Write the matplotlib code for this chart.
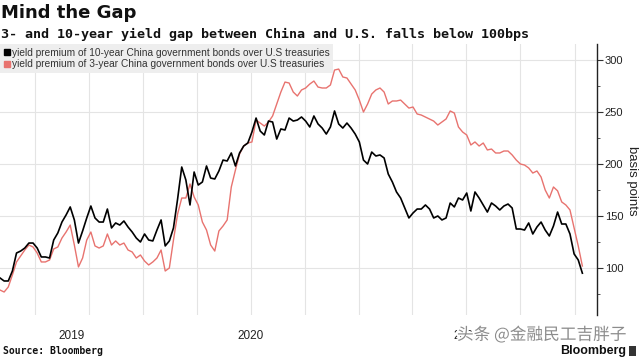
import pandas as pd
import matplotlib
matplotlib.use("Agg")
import matplotlib.pyplot as plt
import matplotlib.dates as mdates
import matplotlib.patheffects as pe
from matplotlib.lines import Line2D
from matplotlib.patches import Rectangle
from matplotlib.ticker import MultipleLocator
from matplotlib import font_manager

# weekly readings, basis points
dates = pd.date_range("2019-05-03", periods=142, freq="7D")

ten_year = [
    90.4, 87.5, 87.5, 97.1, 114.4, 116.3, 119.2, 124.0, 124.0, 119.2,
    110.6, 110.6, 109.6, 126.9, 133.7, 144.2, 151.0, 158.7, 146.2, 124.0,
    135.6, 148.1, 159.6, 148.1, 144.2, 144.2, 156.7, 138.5, 143.3, 141.3,
    145.2, 139.4, 134.6, 128.8, 125.0, 132.7, 126.9, 126.0, 136.5, 146.2,
    121.2, 126.0, 138.5, 166.3, 197.1, 184.6, 160.6, 192.3, 179.8, 182.7,
    198.1, 186.5, 185.6, 193.3, 203.8, 202.9, 210.6, 198.1, 210.6, 217.3,
    220.2, 230.8, 244.2, 231.7, 227.9, 241.3, 240.4, 224.0, 233.7, 232.7,
    244.2, 241.3, 242.3, 245.2, 241.3, 235.6, 246.2, 238.5, 234.6, 228.8,
    235.6, 251.0, 238.5, 234.6, 239.4, 234.6, 228.8, 221.2, 203.8, 200.0,
    211.5, 207.7, 208.7, 205.8, 190.4, 182.7, 173.1, 167.3, 157.7, 148.1,
    152.9, 156.7, 156.7, 160.6, 156.7, 148.1, 150.0, 146.2, 148.1, 162.5,
    158.7, 167.3, 165.4, 172.1, 154.8, 173.1, 167.3, 160.6, 153.8, 162.5,
    159.6, 155.8, 159.6, 161.5, 157.7, 137.5, 137.5, 136.5, 143.3, 132.7,
    139.4, 144.2, 136.5, 130.8, 140.4, 153.8, 142.3, 142.3, 132.7, 113.5,
    107.7, 95.0,
]

three_year = [
    78.8, 76.9, 81.7, 93.3, 105.8, 111.5, 117.3, 122.1, 120.2, 114.4,
    105.8, 105.8, 107.7, 118.3, 120.2, 128.8, 134.6, 141.3, 122.1, 101.0,
    109.6, 126.9, 134.6, 121.2, 119.2, 121.2, 132.7, 122.1, 126.0, 122.1,
    124.0, 117.3, 115.4, 109.6, 112.5, 106.7, 102.9, 105.8, 109.6, 117.3,
    97.1, 100.0, 126.9, 151.9, 167.3, 167.3, 180.8, 168.3, 160.6, 144.2,
    136.5, 122.1, 116.3, 135.6, 140.4, 146.2, 177.9, 194.2, 209.6, 217.3,
    220.2, 221.2, 242.3, 239.4, 236.5, 240.4, 246.2, 257.7, 269.2, 278.8,
    277.9, 269.2, 265.4, 271.2, 273.1, 276.9, 279.8, 274.0, 273.1, 273.1,
    276.0, 290.4, 291.3, 283.7, 282.7, 276.9, 271.2, 261.5, 250.0, 257.7,
    267.3, 271.2, 273.1, 269.2, 257.7, 260.6, 260.6, 261.5, 257.7, 253.8,
    254.8, 248.1, 247.1, 245.2, 243.3, 241.3, 237.5, 240.4, 243.3, 251.0,
    249.0, 235.6, 230.8, 227.9, 218.3, 221.2, 217.3, 220.2, 213.5, 214.4,
    210.6, 210.6, 212.5, 212.5, 208.7, 203.8, 200.0, 199.0, 196.2, 191.3,
    193.3, 187.5, 175.0, 167.3, 177.9, 174.2, 163.5, 160.6, 155.8, 138.5,
    121.2, 101.9,
]

label_10 = "yield premium of 10-year China government bonds over U.S treasuries"
label_3 = "yield premium of 3-year China government bonds over U.S treasuries"
y_ticks = [100, 150, 200, 250, 300]
years = [2019, 2020, 2021]

x_start = pd.Timestamp("2019-05-03")
x_end = pd.Timestamp("2022-02-08")

names = {f.name for f in font_manager.fontManager.ttflist}
narrow = "Liberation Sans Narrow" if "Liberation Sans Narrow" in names else "Liberation Sans"

fig = plt.figure(figsize=(6.4, 3.59), dpi=100)
ax = fig.add_axes([0, 0.1226, 0.933, 0.7548])

ax.plot(dates, three_year, color="#e8736f", lw=1.0, zorder=3)
ax.plot(dates, ten_year, color="black", lw=1.2, zorder=4)

ax.set_xlim(x_start, x_end)
ax.set_ylim(54.8, 315.4)

# quarterly vertical grid, no x tick marks
ax.xaxis.set_major_locator(mdates.MonthLocator(bymonth=[1, 4, 7, 10]))
ax.tick_params(axis="x", length=0, labelbottom=False)
ax.grid(axis="x", color="#e4e4e4", lw=0.8)
ax.grid(axis="y", color="#e4e4e4", lw=0.8)

# year labels centred on the visible part of each year
trans = ax.get_xaxis_transform()
for yr in years:
    a = max(pd.Timestamp(f"{yr}-01-01"), x_start)
    b = min(pd.Timestamp(f"{yr}-12-31"), x_end)
    mid = a + (b - a) / 2
    ax.text(mid, -0.077, str(yr), transform=trans, ha="center", va="center",
            fontsize=8.5, family="Liberation Sans", color="#222222")

ax.yaxis.tick_right()
ax.set_yticks(y_ticks)
ax.yaxis.set_minor_locator(MultipleLocator(25))
ax.tick_params(axis="y", which="major", direction="out", length=4, width=0.8,
               color="#333333", labelsize=8, pad=1.5, labelcolor="#222222")
ax.tick_params(axis="y", which="minor", direction="out", length=2.5, width=0.7,
               color="#555555")
for lab in ax.get_yticklabels():
    lab.set_family("Liberation Sans")
for s in ["left", "top", "bottom"]:
    ax.spines[s].set_visible(False)
ax.spines["right"].set_color("#222222")
ax.spines["right"].set_linewidth(1.0)

fig.text(632 / 640, 1 - 181 / 359, "basis points", rotation=270, ha="center",
         va="center", fontsize=9.5, family="Liberation Sans", color="#222222")

handles = [
    Line2D([], [], marker="s", color="black", linestyle="none", markersize=5),
    Line2D([], [], marker="s", color="#e8736f", linestyle="none", markersize=5),
]
leg = ax.legend(handles, [label_10, label_3], loc="upper left",
                bbox_to_anchor=(0, 1.0), frameon=True, fancybox=False,
                facecolor="#eeeeee", edgecolor="none", framealpha=1,
                prop={"family": narrow, "size": 7.3}, handlelength=0.6,
                handletextpad=0.2, labelspacing=0.15, borderpad=0.35,
                borderaxespad=0)
for t in leg.get_texts():
    t.set_color("#333333")

fig.text(0.002, 1 - 13 / 359, "Mind the Gap", fontsize=13, fontweight="bold",
         va="center", ha="left", color="#111111")
fig.text(0.002, 1 - 34 / 359,
         "3- and 10-year yield gap between China and U.S. falls below 100bps",
         fontsize=9.6, fontweight="bold", family="DejaVu Sans Mono",
         va="center", ha="left", color="#111111")
fig.text(0.005, 1 - 351 / 359, "Source: Bloomberg", fontsize=7, fontweight="bold",
         family="DejaVu Sans Mono", va="center", ha="left", color="#111111")

fig.text(0.714, 1 - 335 / 359, "头条 @金融民工吉胖子", fontsize=12,
         family=["Noto Sans CJK SC", "DejaVu Sans"], color="#8c8c8c",
         va="center", ha="left", zorder=10,
         path_effects=[pe.withStroke(linewidth=2.5, foreground="white")])

fig.text(0.978, 1 - 351 / 359, "Bloomberg", fontsize=9, fontweight="bold",
         family="Liberation Sans", va="center", ha="right", color="#111111",
         zorder=11)
fig.patches.append(Rectangle((0.983, 1 - 356 / 359), 0.011, 0.028,
                             transform=fig.transFigure, facecolor="#333333",
                             edgecolor="none", zorder=11))

fig.savefig("out.png", dpi=100)
